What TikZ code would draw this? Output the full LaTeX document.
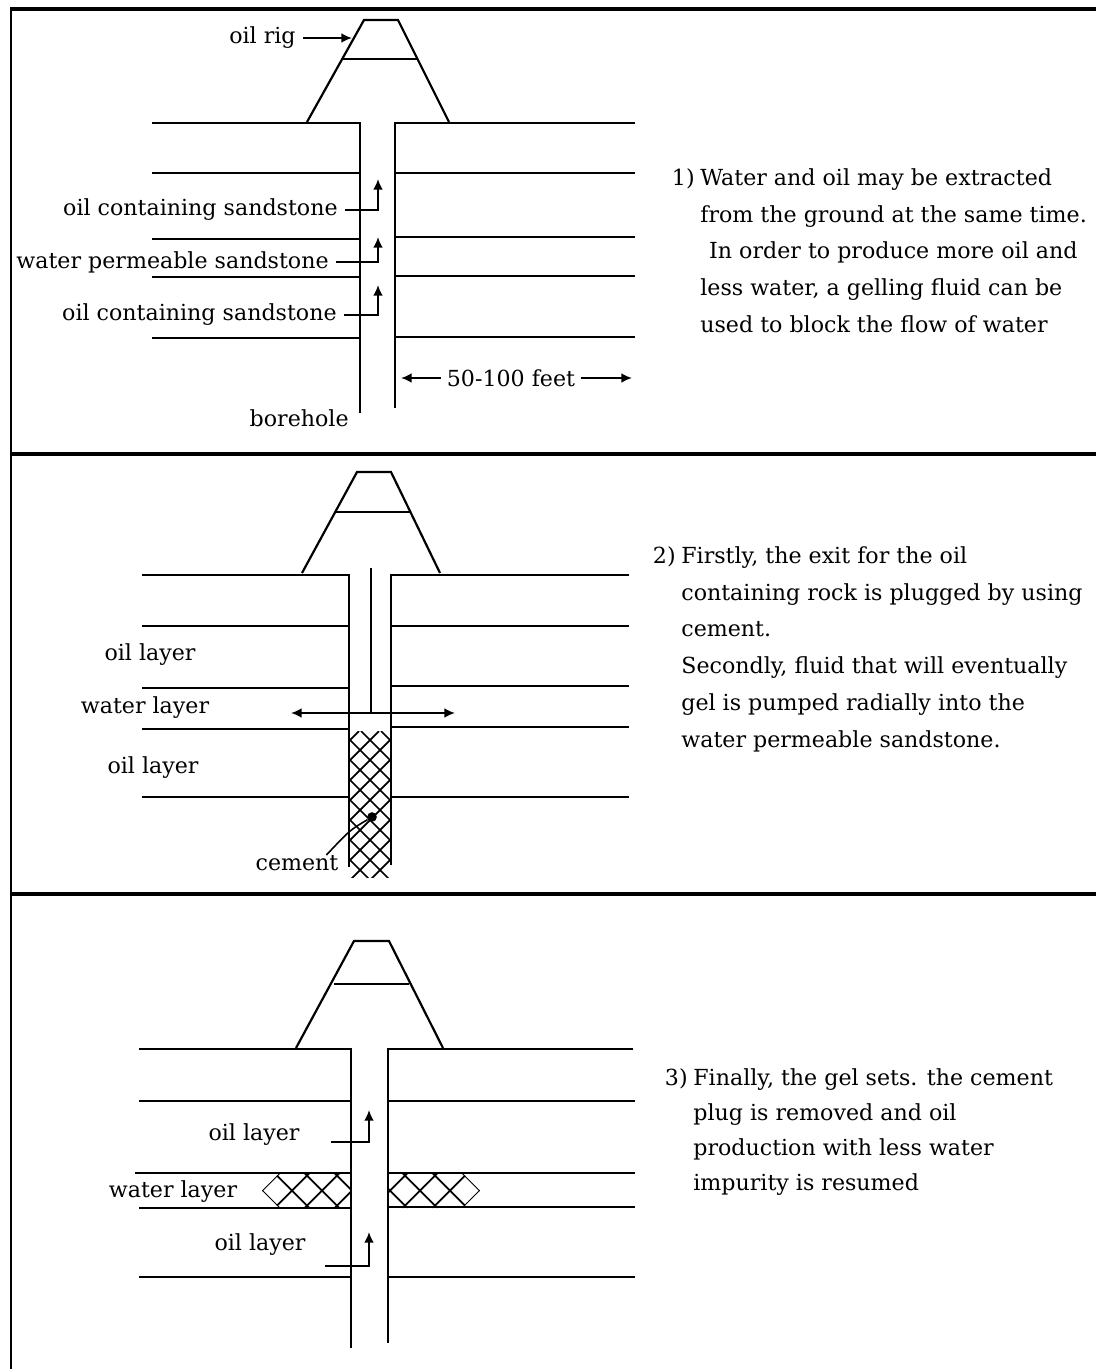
\documentclass[tikz,border=0pt]{standalone}
\usepackage{fontspec}
\setmainfont{DejaVu Serif}
\usetikzlibrary{arrows.meta}

\begin{document}
\begin{tikzpicture}[x=0.02cm, y=-0.02cm,
    earth/.style={line width=1.25pt},
    panelline/.style={line width=1.8pt},
    gel/.style={line width=1pt},
    flow/.style={line width=1.1pt, -{Latex[length=6pt,width=5.5pt]}},
    pump/.style={line width=1.1pt, {Latex[length=6pt,width=5.5pt]}-{Latex[length=6pt,width=5.5pt]}},
    lbl/.style={inner sep=0pt, font=\fontsize{12.6}{21}\selectfont},
    note/.style={lbl, align=left, anchor=north west}]

  \useasboundingbox (0,0) rectangle (1096,1369);
  \fill[white] (0,0) rectangle (1096,1369);

  % outer frame and the two dividers
  \draw[earth] (11,1369) -- (11,9);
  \draw[panelline] (10,9) -- (1096,9);
  \draw[panelline] (11,454) -- (1096,454);
  \draw[panelline] (11,894) -- (1096,894);

  %% step 1: water and oil come up together
  % oil rig
  \draw[earth] (307,122) -- (364,20) -- (398,20) -- (449,122);
  \draw[earth] (342,59) -- (417,59);

  % ground, rock layers and the borehole
  \draw[earth] (152,123) -- (360,123) -- (360,413);
  \draw[earth] (635,123) -- (395,123) -- (395,408);
  \foreach \y in {173,239,277,338} \draw[earth] (152,\y) -- (360,\y);
  \foreach \y in {173,237,276,337} \draw[earth] (395,\y) -- (635,\y);

  % labels and the hooked arrows into the hole
  \node[lbl, anchor=east] (rigA) at (296,38) {oil rig};
  \coordinate (legA) at (352,38);
  \draw[flow, shorten <=4pt] (rigA.east) -- (legA);

  \node[lbl, anchor=east] (oilA) at (338,210) {oil containing sandstone};
  \node[lbl, anchor=east] (waterA) at (329,262) {water permeable sandstone};
  \node[lbl, anchor=east] (oilB) at (337,315) {oil containing sandstone};
  \coordinate (upA) at (378,179);
  \coordinate (upB) at (378,237);
  \coordinate (upC) at (378,285);
  \draw[flow, shorten <=4pt] (oilA.east) -| (upA);
  \draw[flow, shorten <=4pt] (waterA.east) -| (upB);
  \draw[flow, shorten <=4pt] (oilB.east) -| (upC);

  % width of the zone around the hole
  \node[lbl] (spanA) at (511,378) {50-100 feet};
  \coordinate (wallA) at (401,378);
  \coordinate (farA) at (632,378);
  \draw[flow, shorten <=3pt] (spanA.west) -- (wallA);
  \draw[flow, shorten <=3pt] (spanA.east) -- (farA);

  \node[lbl, anchor=east] (boreA) at (349,418) {borehole};

  \node[note] (textA) at (700,168) {Water and oil may be extracted\\
    from the ground at the same time.\\
    \hspace{0.4em}In order to produce more oil and\\
    less water, a gelling fluid can be\\
    used to block the flow of water};
  \node[lbl, anchor=north east] (numA) at (695,168) {1)};

  %% step 2: cement plug and gel injection
  % oil rig
  \draw[earth] (302,573) -- (357,472) -- (391,472) -- (440,573);
  \draw[earth] (335,512) -- (410,512);

  % ground, rock layers and the borehole
  \draw[earth] (142,575) -- (349,575) -- (349,867);
  \draw[earth] (629,575) -- (391,575) -- (391,865);
  \foreach \y in {626,688,729,797} \draw[earth] (142,\y) -- (349,\y);
  \foreach \y in {626,686,727,797} \draw[earth] (391,\y) -- (629,\y);

  % injection pipe
  \draw[earth] (371,568) -- (371,713);

  % cement in the bottom of the hole
  \begin{scope}
    \clip (349,731) rectangle (391,877);
    \foreach \a in {201,221,...,381} \draw[gel] (\a,731) -- ++(148,148);
    \foreach \a in {359,379,...,539} \draw[gel] (\a,731) -- ++(-148,148);
  \end{scope}
  \node[circle, fill, inner sep=0pt, minimum size=5.5pt] (plug) at (372,817) {};
  \node[lbl] (cement) at (297,863) {cement};
  \draw[line width=0.9pt] (plug) .. controls (350,830) .. ([xshift=-7pt]cement.north east);

  % gel pushed out sideways
  \coordinate (pumpL) at (291,713);
  \coordinate (pumpR) at (455,713);
  \draw[pump] (pumpL) -- (pumpR);

  \node[lbl] (oilC) at (150,655) {oil layer};
  \node[lbl] (waterB) at (145,708) {water layer};
  \node[lbl] (oilD) at (153,768) {oil layer};

  \node[note] (textB) at (681,546) {Firstly, the exit for the oil\\
    containing rock is plugged by using\\
    cement.\\
    Secondly, fluid that will eventually\\
    gel is pumped radially into the\\
    water permeable sandstone.};
  \node[lbl, anchor=north east] (numB) at (676,546) {2)};

  %% step 3: gel blocks the water layer
  % oil rig
  \draw[earth] (296,1048) -- (354,941) -- (389,941) -- (443,1048);
  \draw[earth] (334,984) -- (409,984);

  % ground, rock layers and the borehole
  \draw[earth] (139,1049) -- (351,1049) -- (351,1348);
  \draw[earth] (633,1049) -- (388,1049) -- (388,1343);
  \foreach \y in {1101,1208,1277} \draw[earth] (139,\y) -- (351,\y);
  \draw[earth] (135,1173) -- (351,1173);
  \foreach \y in {1101,1173,1207,1277} \draw[earth] (388,\y) -- (635,\y);

  % set gel on both sides of the hole
  \begin{scope}
    \clip (262,1190.5) -- (279.5,1173) -- (351,1173) -- (351,1208) -- (279.5,1208) -- cycle;
    \foreach \a in {244.5,274.5,304.5,334.5} {
      \draw[gel] (\a,1173) -- ++(35,35);
      \draw[gel] (\a,1208) -- ++(35,-35);
    }
  \end{scope}
  \begin{scope}
    \clip (388,1173) -- (462.5,1173) -- (480,1190.5) -- (462.5,1208) -- (388,1208) -- cycle;
    \foreach \a in {372.5,402.5,432.5,462.5} {
      \draw[gel] (\a,1173) -- ++(35,35);
      \draw[gel] (\a,1208) -- ++(35,-35);
    }
  \end{scope}

  \node[lbl] (oilE) at (254,1135) {oil layer};
  \node[lbl] (waterC) at (173,1192) {water layer};
  \node[lbl] (oilF) at (260,1245) {oil layer};
  \coordinate (upD) at (369,1110);
  \coordinate (upE) at (369,1232);
  \draw[flow] ([xshift=18pt, yshift=-4pt]oilE.east) -| (upD);
  \draw[flow] ([xshift=11pt, yshift=-12pt]oilF.east) -| (upE);

  \node[note, font=\fontsize{12.6}{20}\selectfont] (textC) at (693,1068) {Finally, the gel sets. the cement\\
    plug is removed and oil\\
    production with less water\\
    impurity is resumed};
  \node[lbl, anchor=north east] (numC) at (688,1068) {3)};
\end{tikzpicture}
\end{document}
